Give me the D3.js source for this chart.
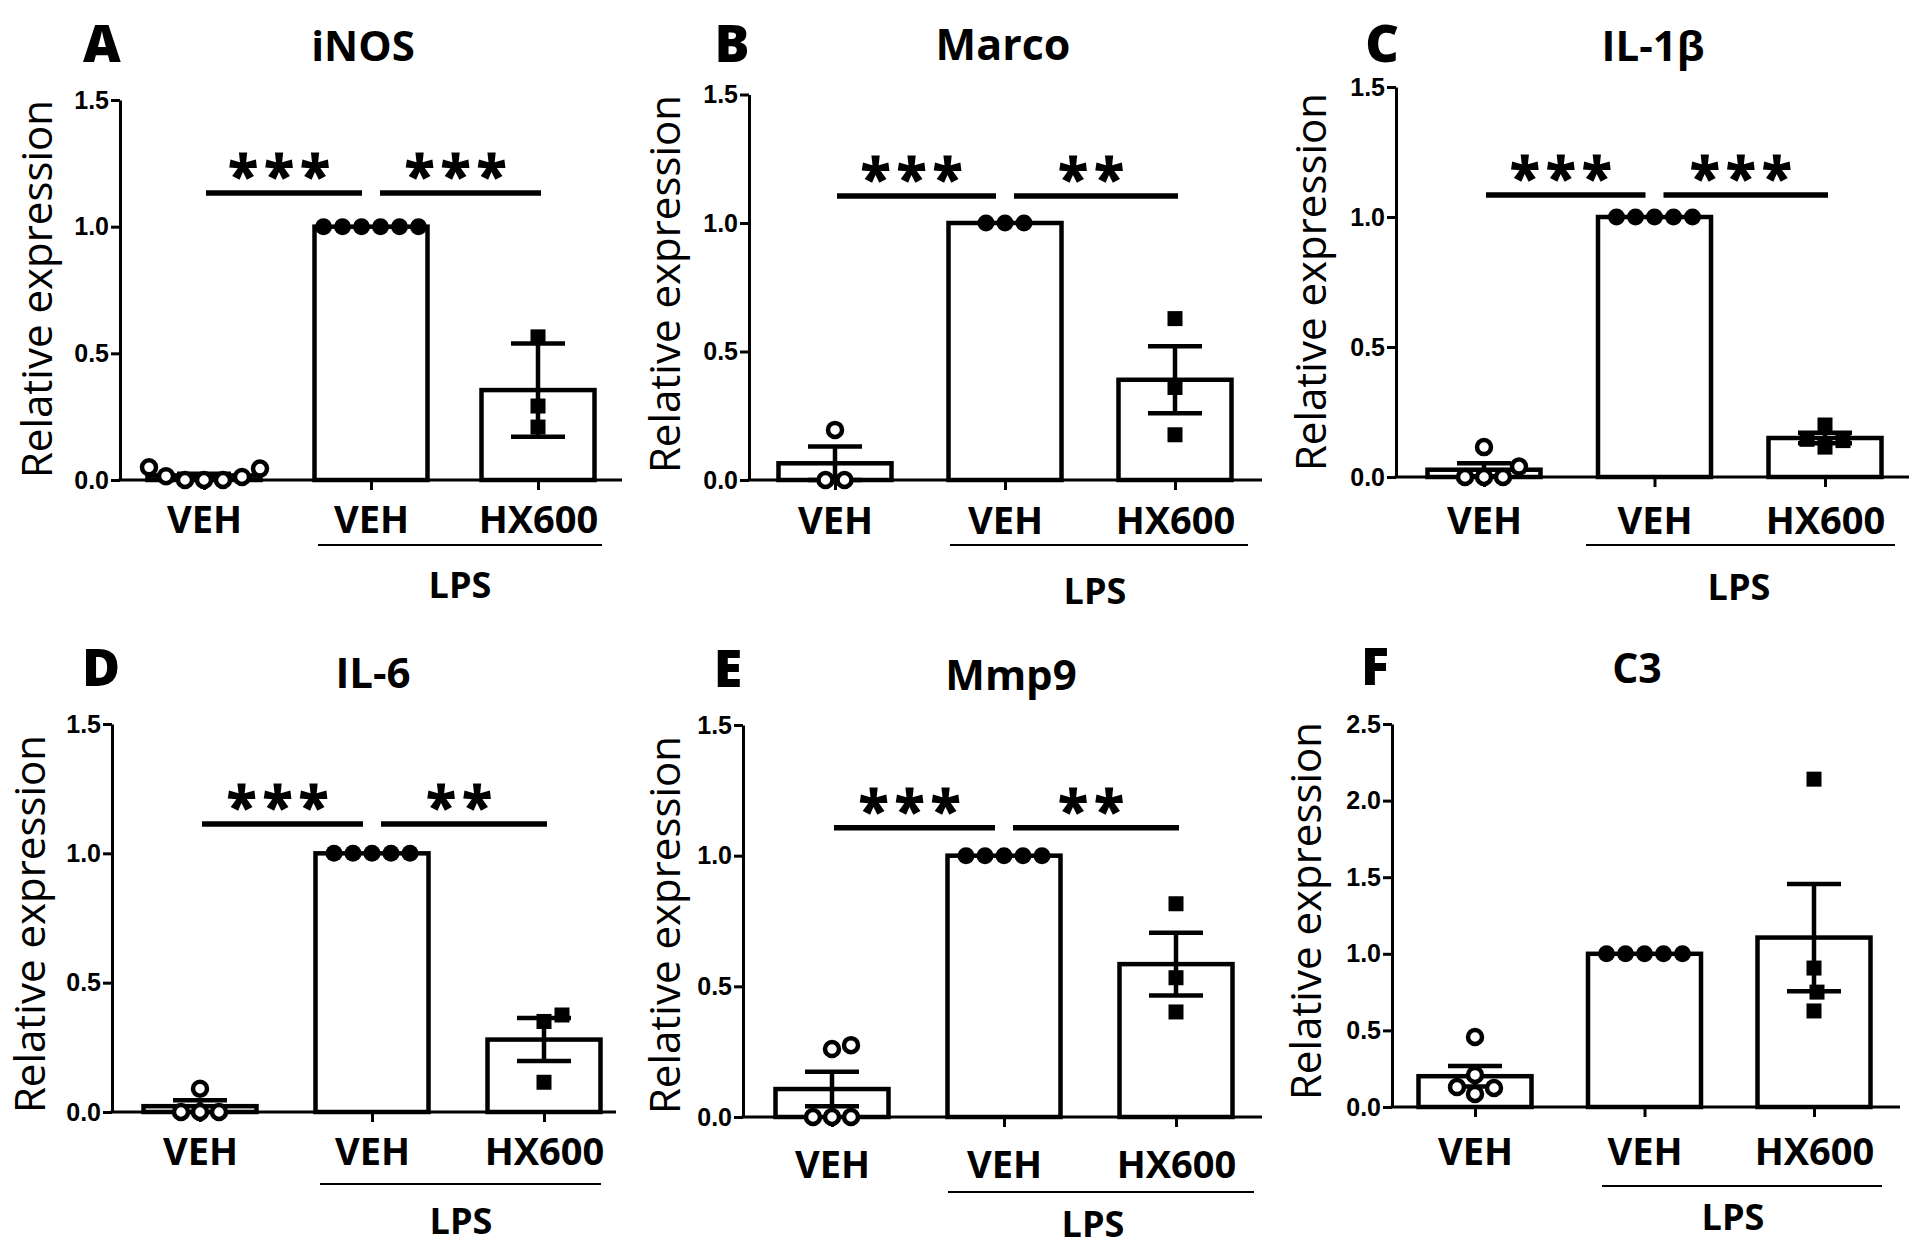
<!DOCTYPE html>
<html><head><meta charset="utf-8">
<script src="https://cdn.jsdelivr.net/npm/d3@7"></script>
<style>body{margin:0;background:#fff} svg{display:block}</style>
</head><body>
<svg id="fig" width="1920" height="1248"></svg>
<script>
// ---------------- data ----------------
const panelLetters = ["A", "B", "C", "D", "E", "F"];
const genes = ["iNOS", "Marco", "IL-1β", "IL-6", "Mmp9", "C3"];
const groupLabels = ["VEH", "VEH", "HX600"];
const lpsLabel = "LPS";
const yAxisTitle = "Relative expression";
const yMaxes = [1.5, 1.5, 1.5, 1.5, 1.5, 2.5];
const yTickValues = [
  [0, 0.5, 1.0, 1.5], [0, 0.5, 1.0, 1.5], [0, 0.5, 1.0, 1.5],
  [0, 0.5, 1.0, 1.5], [0, 0.5, 1.0, 1.5], [0, 0.5, 1.0, 1.5, 2.0, 2.5]
];
// individual replicates
const vehPoints = [
  [0.045, 0.012, 0.0, 0.0, 0.0, 0.015, 0.05],
  [0.0, 0.0, 0.195],
  [0.0, 0.0, 0.0, 0.04, 0.115],
  [0.0, 0.0, 0.0, 0.09],
  [0.0, 0.0, 0.0, 0.26, 0.275],
  [0.085, 0.124, 0.13, 0.209, 0.457]
];
const lpsVehPoints = [
  [1, 1, 1, 1, 1, 1],
  [1, 1, 1],
  [1, 1, 1, 1, 1],
  [1, 1, 1, 1, 1],
  [1, 1, 1, 1, 1],
  [1, 1, 1, 1, 1]
];
const lpsHxPoints = [
  [0.209, 0.292, 0.565],
  [0.176, 0.36, 0.628],
  [0.115, 0.14, 0.145, 0.2],
  [0.115, 0.35, 0.375],
  [0.402, 0.533, 0.816],
  [0.627, 0.75, 0.907, 2.14]
];
// bar heights (mean) and error bars, as drawn
const barMeans = [
  [0.018, 1.0, 0.355],
  [0.065, 1.0, 0.39],
  [0.028, 1.0, 0.15],
  [0.0225, 1.0, 0.28],
  [0.107, 1.0, 0.585],
  [0.201, 1.0, 1.106]
];
const barErrors = [
  [0.007, 0, 0.184],
  [0.065, 0, 0.13],
  [0.025, 0, 0.02],
  [0.0225, 0, 0.083],
  [0.066, 0, 0.12],
  [0.067, 0, 0.35]
];
// significance brackets: [VEH vs LPS+VEH, LPS+VEH vs LPS+HX600]
const sigLabels = [["***", "***"], ["***", "**"], ["***", "***"], ["***", "**"], ["***", "**"], []];
const sigHeights = [1.133, 1.105, 1.085, 1.113, 1.107, null];

// ---------------- layout ----------------
const layout = [
  {x0:120, x1:622, c0:204, c2:538, yTop:100, yBase:480, letter:[102,62], title:[363,61], titleSize:42, catY:533, lpsLine:[318,602,545], lpsText:[460,598], yTitle:[35,289]},
  {x0:749, x1:1262, c0:835, c2:1175, yTop:94.5, yBase:480, letter:[732,62], title:[1003,60], titleSize:43, catY:534, lpsLine:[950,1248,545], lpsText:[1095,604], yTitle:[663,284]},
  {x0:1396, x1:1909, c0:1484, c2:1825, yTop:87, yBase:477, letter:[1382,62], title:[1653,61], titleSize:42, catY:534, lpsLine:[1586,1895,545], lpsText:[1739,600], yTitle:[1309,282]},
  {x0:112, x1:616, c0:200, c2:544, yTop:724, yBase:1112, letter:[101,686], title:[373,688], titleSize:42, catY:1165, lpsLine:[320,601,1184], lpsText:[461,1234], yTitle:[28,924]},
  {x0:743, x1:1262, c0:832, c2:1176, yTop:725, yBase:1117, letter:[728,687], title:[1011,690], titleSize:42, catY:1178, lpsLine:[948,1254,1192], lpsText:[1093,1237], yTitle:[663,925]},
  {x0:1392, x1:1900, c0:1475, c2:1814, yTop:724, yBase:1107, letter:[1375,685], title:[1637,683], titleSize:41, catY:1165, lpsLine:[1602,1882,1186], lpsText:[1733,1230], yTitle:[1304,911]}
];

const BOLD = "'Open Sans', 'DejaVu Sans', sans-serif";
const svg = d3.select("#fig");
svg.append("rect").attr("width", 1920).attr("height", 1248).attr("fill", "#fff");

function swarm(values, yScale, dist) {
  const idx = values.map((v, i) => i).sort((a, b) => values[a] - values[b]);
  const placed = [];
  const off = new Array(values.length).fill(0);
  idx.forEach(i => {
    const py = yScale(values[i]);
    for (let k = 0; k < 400; k++) {
      const cand = k === 0 ? 0 : (k % 2 === 1 ? (k + 1) / 2 : -k / 2);
      const ok = placed.every(p => Math.hypot(p.x - cand, p.y - py) >= dist - 0.01);
      if (ok) { off[i] = cand; placed.push({x: cand, y: py}); break; }
    }
  });
  const byVal = d3.group(values.map((v, i) => i), i => values[i]);
  byVal.forEach(ids => {
    if (ids.length > 1) {
      const ext = d3.extent(ids, i => off[i]);
      const s = (ext[0] + ext[1]) / 2;
      ids.forEach(i => off[i] -= s);
    }
  });
  return off;
}

panelLetters.forEach((letter, p) => {
  const L = layout[p];
  const g = svg.append("g");
  const y = d3.scaleLinear().domain([0, yMaxes[p]]).range([L.yBase, L.yTop]);
  const x = d3.scalePoint().domain([0, 1, 2]).range([L.c0, L.c2]);
  const bw = 113;

  g.append("text").attr("x", L.letter[0]).attr("y", L.letter[1]).attr("text-anchor", "middle")
    .attr("font-family", BOLD).attr("font-weight", 800).attr("font-size", 52).text(letter);
  g.append("text").attr("x", L.title[0]).attr("y", L.title[1]).attr("text-anchor", "middle")
    .attr("font-family", BOLD).attr("font-weight", 700).attr("font-size", L.titleSize).text(genes[p]);

  // y axis
  const ya = g.append("g").attr("transform", `translate(${L.x0},0)`)
    .call(d3.axisLeft(y).tickValues(yTickValues[p]).tickFormat(d3.format(".1f")).tickSize(9).tickSizeOuter(0).tickPadding(2));
  ya.select(".domain").attr("stroke", "#000").attr("stroke-width", 3);
  ya.selectAll(".tick line").attr("stroke", "#000").attr("stroke-width", 3);
  ya.selectAll(".tick text").attr("font-family", "'Liberation Sans', Arial, sans-serif")
    .attr("font-weight", 700).attr("font-size", 25).attr("fill", "#000");

  g.append("text").attr("transform", `translate(${L.yTitle[0]},${L.yTitle[1]}) rotate(-90)`)
    .attr("text-anchor", "middle").attr("dominant-baseline", "central")
    .attr("font-family", "'Open Sans', sans-serif").attr("font-size", 42).text(yAxisTitle);

  // x axis
  const xa = g.append("g").attr("transform", `translate(0,${L.yBase})`)
    .call(d3.axisBottom(x).tickSize(10).tickFormat(i => groupLabels[i]));
  xa.select(".domain").remove();
  xa.selectAll(".tick line").attr("stroke", "#000").attr("stroke-width", 3);
  xa.selectAll(".tick text").attr("y", L.catY - L.yBase).attr("dy", null)
    .attr("font-family", BOLD).attr("font-weight", 700).attr("font-size", 38).attr("fill", "#000");
  g.append("line").attr("x1", L.x0 - 1.5).attr("x2", L.x1).attr("y1", L.yBase).attr("y2", L.yBase)
    .attr("stroke", "#000").attr("stroke-width", 3);

  g.append("line").attr("x1", L.lpsLine[0]).attr("x2", L.lpsLine[1]).attr("y1", L.lpsLine[2]).attr("y2", L.lpsLine[2])
    .attr("stroke", "#000").attr("stroke-width", 2);
  g.append("text").attr("x", L.lpsText[0]).attr("y", L.lpsText[1]).attr("text-anchor", "middle")
    .attr("font-family", BOLD).attr("font-weight", 700).attr("font-size", 36).text(lpsLabel);

  // bars
  g.selectAll("rect.bar").data(barMeans[p]).join("rect").attr("class", "bar")
    .attr("x", (d, i) => x(i) - bw / 2).attr("y", d => y(d))
    .attr("width", bw).attr("height", d => L.yBase - y(d))
    .attr("fill", "#fff").attr("stroke", "#000").attr("stroke-width", 4.5);

  // error bars
  barMeans[p].forEach((m, i) => {
    const e = barErrors[p][i];
    if (!e) return;
    const cx = x(i), cap = 27;
    g.append("line").attr("x1", cx).attr("x2", cx).attr("y1", y(m - e)).attr("y2", y(m + e))
      .attr("stroke", "#000").attr("stroke-width", 4.5);
    [m - e, m + e].forEach(v => g.append("line").attr("x1", cx - cap).attr("x2", cx + cap)
      .attr("y1", y(v)).attr("y2", y(v)).attr("stroke", "#000").attr("stroke-width", 4.5));
  });

  // points
  const vOff = swarm(vehPoints[p], y, 19);
  g.selectAll("circle.veh").data(vehPoints[p]).join("circle").attr("class", "veh")
    .attr("cx", (d, i) => x(0) + vOff[i]).attr("cy", d => y(d)).attr("r", 7)
    .attr("fill", "#fff").attr("stroke", "#000").attr("stroke-width", 4.5);
  const lOff = swarm(lpsVehPoints[p], y, 19);
  g.selectAll("circle.lps").data(lpsVehPoints[p]).join("circle").attr("class", "lps")
    .attr("cx", (d, i) => x(1) + lOff[i]).attr("cy", d => y(d)).attr("r", 8.5).attr("fill", "#000");
  const hOff = swarm(lpsHxPoints[p], y, 19);
  g.selectAll("rect.hx").data(lpsHxPoints[p]).join("rect").attr("class", "hx")
    .attr("x", (d, i) => x(2) + hOff[i] - 7.5).attr("y", d => y(d) - 7.5)
    .attr("width", 15).attr("height", 15).attr("fill", "#000");

  // significance brackets
  if (sigHeights[p] !== null) {
    const sy = y(sigHeights[p]);
    [[0, 1], [1, 2]].forEach((pr, k) => {
      const xa1 = x(pr[0]) + (pr[0] === 1 ? 9 : 2);
      const xb1 = x(pr[1]) + (pr[1] === 1 ? -9 : 3);
      g.append("line").attr("x1", xa1).attr("x2", xb1).attr("y1", sy).attr("y2", sy)
        .attr("stroke", "#000").attr("stroke-width", 5.5);
      g.append("text").attr("x", (xa1 + xb1) / 2 - 2).attr("y", sy + 3).attr("text-anchor", "middle")
        .attr("font-family", BOLD).attr("font-weight", 800).attr("font-size", 56)
        .attr("letter-spacing", 6).text(sigLabels[p][k]);
    });
  }
});
</script>
</body></html>
